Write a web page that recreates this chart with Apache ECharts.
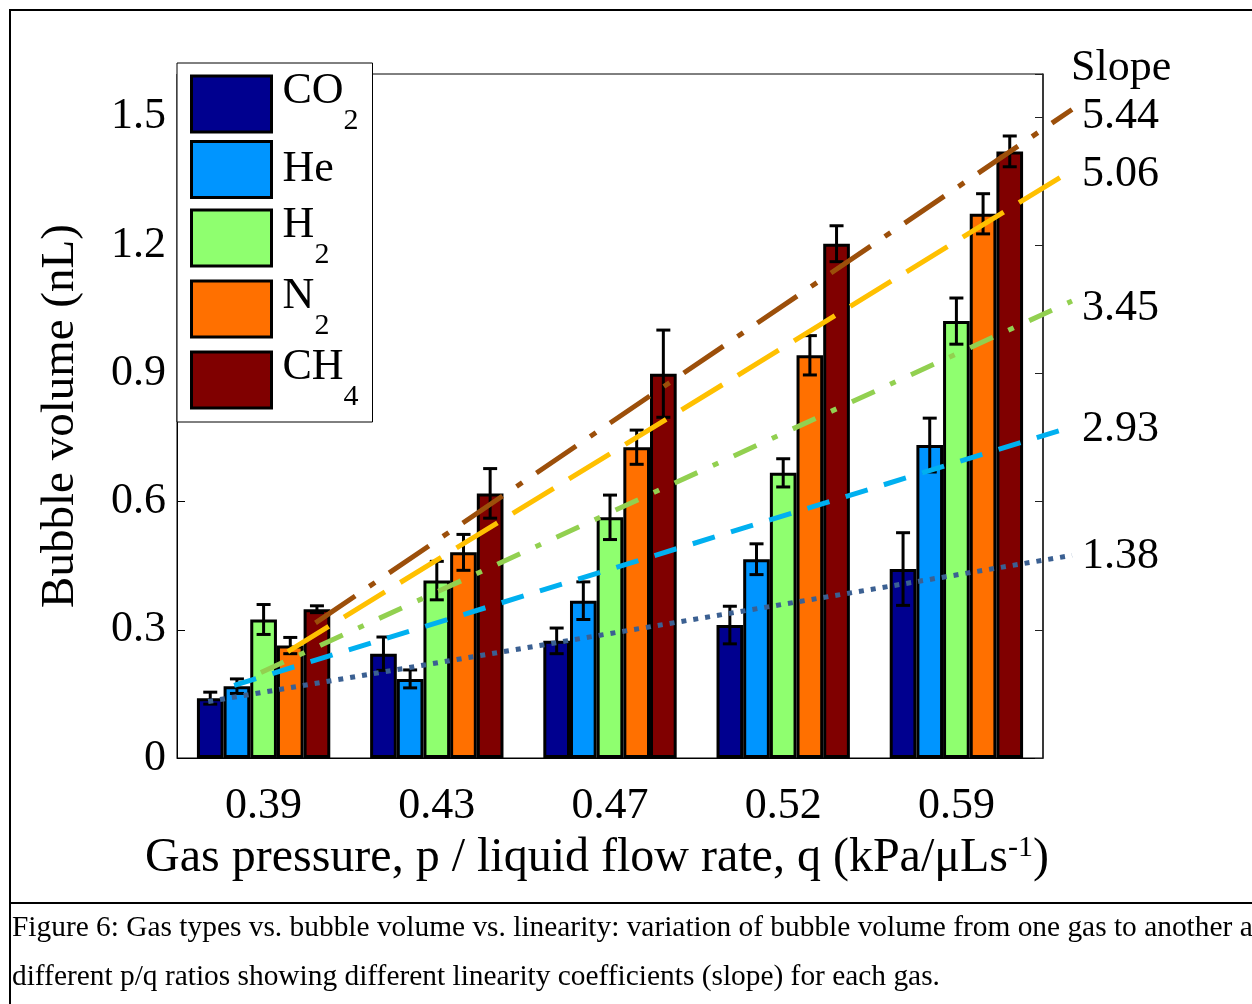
<!DOCTYPE html>
<html><head><meta charset="utf-8">
<script src="https://cdn.jsdelivr.net/npm/echarts@6/dist/echarts.min.js"></script>
<style>html,body{margin:0;padding:0;background:#fff}#c{width:1252px;height:1004px}</style>
</head><body><div id="c"></div>
<script>
// ---- data ----
const categories = ['0.39', '0.43', '0.47', '0.52', '0.59'];
const gases = ['CO2', 'He', 'H2', 'N2', 'CH4'];
const co2 = [0.140, 0.244, 0.274, 0.311, 0.442];
const he  = [0.168, 0.185, 0.368, 0.465, 0.732];
const h2  = [0.324, 0.415, 0.563, 0.667, 1.022];
const n2  = [0.263, 0.481, 0.727, 0.942, 1.273];
const ch4 = [0.348, 0.619, 0.899, 1.203, 1.419];
const co2Err = [0.014, 0.039, 0.030, 0.044, 0.085];
const heErr  = [0.017, 0.021, 0.044, 0.036, 0.063];
const h2Err  = [0.035, 0.045, 0.052, 0.033, 0.054];
const n2Err  = [0.019, 0.042, 0.040, 0.046, 0.047];
const ch4Err = [0.008, 0.058, 0.102, 0.042, 0.036];
// linear fits: [position along category axis (in bands), volume]
const co2Fit = [[0.18, 0.132], [5.17, 0.474]];
const heFit  = [[0.33, 0.170], [5.17, 0.775]];
const h2Fit  = [[0.485, 0.200], [5.17, 1.069]];
const n2Fit  = [[0.64, 0.249], [5.17, 1.375]];
const ch4Fit = [[0.80, 0.316], [5.17, 1.517]];
const slopes = ['1.38', '2.93', '3.45', '5.06', '5.44'];
const yTicks = [0, 0.3, 0.6, 0.9, 1.2, 1.5];
const caption1 = 'Figure 6: Gas types vs. bubble volume vs. linearity: variation of bubble volume from one gas to another at';
const caption2 = 'different p/q ratios showing different linearity coefficients (slope) for each gas.';

// ---- styles ----
const FONT = '"Liberation Serif", "Times New Roman", serif';
const barColors = ['#00008f', '#0095ff', '#8fff6f', '#ff7000', '#800000'];
const lineColors = ['#3b6092', '#00b0f0', '#92d050', '#ffc000', '#9c4f0a'];
const lineDash = [[5, 7], [23, 17], [25, 17, 6, 17], [48, 18], [48, 17, 7, 17]];
const labelOffsets = [[0, 1], [0, 3], [0, 7], [0, 4], [0, 7]];
const values = [co2, he, h2, n2, ch4];
const errs = [co2Err, heErr, h2Err, n2Err, ch4Err];
const fits = [co2Fit, heFit, h2Fit, n2Fit, ch4Fit];
const GAP = 0.23;

// measure text width for subscript placement in legend
const mctx = document.createElement('canvas').getContext('2d');
function textW(t, size) { mctx.font = size + 'px ' + FONT; return mctx.measureText(t).width; }

const series = [];
values.forEach((vals, i) => {
  series.push({
    name: gases[i], type: 'bar', xAxisIndex: 0, yAxisIndex: 0,
    data: vals, barGap: '0%', barCategoryGap: (GAP * 100) + '%',
    itemStyle: { color: barColors[i], borderColor: '#000', borderWidth: 3 },
    z: 2, silent: true
  });
});
values.forEach((vals, i) => {
  series.push({
    type: 'custom', xAxisIndex: 0, yAxisIndex: 0, z: 4, silent: true,
    data: vals.map((v, k) => [k, v, errs[i][k]]),
    encode: { x: 0, y: 1 },
    renderItem: function (params, api) {
      const ci = api.value(0), v = api.value(1), e = api.value(2);
      const band = api.size([1, 0])[0];
      const gw = band * (1 - GAP), bw = gw / 5;
      const c = api.coord([ci, v]);
      const x = c[0] - gw / 2 + bw * (i + 0.5);
      const yt = api.coord([ci, v + e])[1], yb = api.coord([ci, v - e])[1];
      const h = 7;
      const st = { stroke: '#000', lineWidth: 3, fill: null };
      return { type: 'group', children: [
        { type: 'line', shape: { x1: x, y1: yt, x2: x, y2: yb }, style: st },
        { type: 'line', shape: { x1: x - h, y1: yt, x2: x + h, y2: yt }, style: st },
        { type: 'line', shape: { x1: x - h, y1: yb, x2: x + h, y2: yb }, style: st }
      ] };
    }
  });
});
fits.forEach((f, i) => {
  series.push({
    type: 'line', xAxisIndex: 1, yAxisIndex: 2, data: f, symbol: 'none',
    clip: false, z: 6, silent: true, animation: false,
    lineStyle: { color: lineColors[i], width: 5, type: lineDash[i], cap: 'butt' },
    endLabel: { show: true, formatter: slopes[i], fontFamily: FONT, fontSize: 44,
                color: '#000', distance: 10, offset: labelOffsets[i] }
  });
});

const chart = echarts.init(document.getElementById('c'), null, { renderer: 'canvas' });
chart.setOption({
  backgroundColor: '#fff',
  animation: false,
  textStyle: { fontFamily: FONT },
  grid: [
    { left: 177, right: 209, top: 74, bottom: 246, show: true, borderColor: '#000', borderWidth: 1, containLabel: false },
    { left: 177, right: 180, top: 74, bottom: 246, show: false, containLabel: false }
  ],
  legend: {
    data: gases, orient: 'vertical', left: 177, top: 63,
    itemWidth: 80, itemHeight: 56, itemGap: 4, icon: 'rect',
    padding: [6, 14, 10, 13], backgroundColor: '#fff', borderColor: '#000', borderWidth: 1,
    selectedMode: false,
    itemStyle: { borderColor: '#000', borderWidth: 3 },
    formatter: function (n) {
      const m = n.match(/^([A-Za-z]+)(\d*)$/);
      if (!m[2]) return '{b|' + m[1] + '}';
      const pad = Math.round(textW(m[1], 44)) + 6;
      return '{b|' + m[1] + '}\n{s' + pad + '|' + m[2] + '}';
    },
    textStyle: { rich: (function () {
      const r = { b: { fontFamily: FONT, fontSize: 44, lineHeight: 34, color: '#000', padding: [0, 0, 0, 6] } };
      gases.forEach(g => {
        const m = g.match(/^([A-Za-z]+)(\d*)$/);
        if (m[2]) {
          const pad = Math.round(textW(m[1], 44)) + 6;
          r['s' + pad] = { fontFamily: FONT, fontSize: 30, lineHeight: 26, color: '#000', padding: [0, 0, 0, pad] };
        }
      });
      return r;
    })() }
  },
  xAxis: [{
    type: 'category', data: categories, position: 'bottom', gridIndex: 0,
    axisLine: { show: true, lineStyle: { color: '#000', width: 1 } },
    axisTick: { show: false },
    axisLabel: { fontFamily: FONT, fontSize: 44, color: '#000', margin: 26 },
    splitLine: { show: false },
    name: '{t|Gas pressure, p / liquid flow rate, q (kPa/μLs}{p|-1}{t|)}',
    nameLocation: 'middle', nameGap: 70,
    nameTextStyle: { padding: [0, 26, 0, 0], rich: {
      t: { fontFamily: FONT, fontSize: 48, lineHeight: 50, color: '#000' },
      p: { fontFamily: FONT, fontSize: 30, lineHeight: 30, verticalAlign: 'top', color: '#000' }
    } }
  }, {
    type: 'value', gridIndex: 1, min: 0, max: 5.17, show: false
  }],
  yAxis: [{
    type: 'value', gridIndex: 0, min: 0, max: 1.6, interval: 0.3, position: 'left',
    axisLine: { show: true, lineStyle: { color: '#000', width: 1 } },
    axisTick: { show: true, inside: true, length: 8, lineStyle: { color: '#000' } },
    axisLabel: { fontFamily: FONT, fontSize: 44, color: '#000', margin: 11, showMaxLabel: false,
                 padding: [8, 0, 0, 0],
                 formatter: v => (yTicks.indexOf(Math.round(v * 10) / 10) >= 0 ? String(Math.round(v * 10) / 10) : '') },
    splitLine: { show: false },
    name: 'Bubble volume (nL)', nameLocation: 'middle', nameGap: 93,
    nameTextStyle: { fontFamily: FONT, fontSize: 47, color: '#000' }
  }, {
    type: 'value', gridIndex: 0, min: 0, max: 1.6, interval: 0.3, position: 'right',
    axisLine: { show: true, lineStyle: { color: '#222', width: 1.5 } },
    axisTick: { show: true, inside: true, length: 8, lineStyle: { color: '#222' } },
    axisLabel: { show: false }, splitLine: { show: false }
  }, {
    type: 'value', gridIndex: 1, min: 0, max: 1.6, show: false
  }],
  series: series,
  graphic: [
    { type: 'rect', z: 100, shape: { x: 10, y: 10, width: 1300, height: 1100 }, style: { fill: null, stroke: '#000', lineWidth: 2 } },
    { type: 'line', z: 100, shape: { x1: 10, y1: 903, x2: 1260, y2: 903 }, style: { stroke: '#000', lineWidth: 2 } },
    { type: 'text', z: 100, left: 12, top: 914, style: { text: caption1, font: '29.4px ' + FONT, fill: '#000' } },
    { type: 'text', z: 100, left: 12, top: 963, style: { text: caption2, font: '29.4px ' + FONT, fill: '#000' } },
    { type: 'text', z: 100, left: 1071, top: 46, style: { text: 'Slope', font: '44px ' + FONT, fill: '#000' } }
  ]
});
</script>
</body></html>
